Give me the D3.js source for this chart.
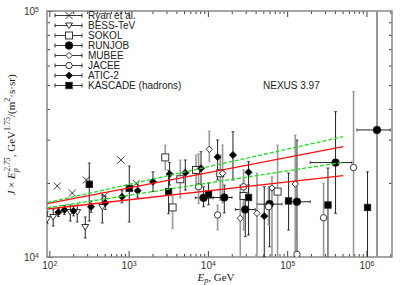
<!DOCTYPE html>
<html lang="en">
<head>
<meta charset="utf-8">
<script src="https://cdn.jsdelivr.net/npm/d3@7"></script>
<style>
  body { margin: 0; background: #fff; }
  svg { display: block; font-family: "Liberation Sans", Arial, sans-serif; }
  .tick text { font-size: 10px; fill: #333; }
</style>
</head>
<body>
<svg id="chart" width="407" height="285"></svg>
<script>
// rows: [E (GeV), J, J low, J high, E low, E high]
var ryan = [[126, 19440], [195, 18200], [293, 20560], [494, 17700], [800, 24790], [1250, 19900]];
var bess = [
  [94, 14260, 13710, 15280], [112, 14540, 13370, 15670], [184, 15240, 14000, 16270],
  [225, 15240, 13880, 16270], [284, 13240, 11950, 14540], [466, 15970, 13750, 17870]
];
var sokol = [
  [2902, 25400, 22580, 28530], [3589, 15900, 13080, 17590], [4487, 20700, 17370, 24790],
  [7080, 22580, 19000, 25980], [14330, 21900, 17000, 26000], [28200, 17700, 12870, 20560],
  [75700, 18450, 9000, 28530]
];
var runjob = [
  [8826, 17400, 16000, 19300, 6936, 11700], [16100, 17450, 15100, 19600, 10720, 20140],
  [29620, 15600, 12100, 18200, 22160, 39600], [60000, 16400, 11000, 19300, 41500, 86000],
  [132900, 16770, 9000, 29900, 94640, 195600], [407600, 24200, 15050, 38970, 195600, 656000],
  [1357000, 32840, 8000, 120000, 759000, 1995000]
];
var mubee = [
  [10420, 27400, 24400, 32500], [15320, 21900, 16560, 28530], [25620, 14370, 9000, 19620],
  [41600, 15050, 9000, 21950], [64300, 19070, 9000, 21200], [126500, 19800, 9000, 31330]
];
var jacee = [
  [7630, 19300, 16500, 26300], [13260, 14820, 12870, 16270], [28200, 19300, 16300, 22600],
  [58280, 16000, 13500, 19000], [132900, 10250, 9000, 11700], [287800, 14440, 9000, 19970],
  [687500, 23100, 9000, 47000]
];
var atic = [
  [130, 15200, 14600, 15800], [155, 15530, 14900, 16200], [202, 15400, 14700, 16100],
  [336, 16000, 15200, 16900], [508, 16600, 15600, 17700], [826, 17570, 16600, 18600],
  [1300, 18600, 17500, 19800], [2030, 20230, 18450, 22200], [3290, 21750, 19600, 24200],
  [5190, 22000, 18700, 24800], [8190, 22940, 19600, 26800], [13260, 25500, 20560, 29900],
  [20720, 25980, 20560, 32300], [32600, 22100, 17050, 24400], [51430, 14660, 10020, 19300]
];
var kascade = [
  [319, 19750, 14000, 24100], [1020, 19000, 13880, 23440], [3195, 18450, 15000, 22500],
  [10200, 18000, 16300, 20000], [32600, 17450, 12290, 19620], [104200, 16900, 12870, 21950],
  [327000, 16270, 9000, 23000], [1032000, 15900, 9000, 22200]
];

// NEXUS 3.97 model bands: [E, J]
var redUpper = [[94, 16470], [510000, 28080]];
var redLower = [[94, 15670], [510000, 21400]];
var greenUpper = [[94, 16640], [510000, 30830]];
var greenLower = [[94, 15850], [510000, 24270]];

var legendNames = ["Ryan et al.", "BESS-TeV", "SOKOL", "RUNJOB", "MUBEE", "JACEE", "ATIC-2", "KASCADE (hadrons)"];

var series = [
  { data: ryan, sym: "x", bar: "#222" },
  { data: bess, sym: "tri", bar: "#222" },
  { data: sokol, sym: "osq", bar: "#999" },
  { data: runjob, sym: "fcirc", bar: "#222" },
  { data: mubee, sym: "odiam", bar: "#999" },
  { data: jacee, sym: "ocirc", bar: "#999" },
  { data: atic, sym: "fdiam", bar: "#222" },
  { data: kascade, sym: "fsq", bar: "#222" }
];

var svg = d3.select("#chart");
var L = 47, R = 392, T = 11, B = 257;

var x = d3.scaleLog().domain([93.5, 2.1e6]).range([L, R]);
var y = d3.scaleLog().domain([1e4, 1e5]).range([B, T]);

svg.append("defs").append("clipPath").attr("id", "plotclip")
  .append("rect").attr("x", L).attr("y", T).attr("width", R - L).attr("height", B - T);

// ticks
var xt = x.ticks(), yt = y.ticks();
function isMajor(d) { return Math.abs(Math.log10(d) - Math.round(Math.log10(d))) < 1e-6; }
var xMaj = xt.filter(isMajor), xMin = xt.filter(function (d) { return !isMajor(d); });
var yMaj = yt.filter(isMajor), yMin = yt.filter(function (d) { return !isMajor(d); });

function supLabels(sel) {
  sel.selectAll(".tick text").each(function (d) {
    var t = d3.select(this);
    t.text("10");
    t.append("tspan").attr("dy", "-0.45em").attr("font-size", "7px").text(Math.round(Math.log10(d)));
  });
}

svg.append("g").attr("transform", "translate(0," + B + ")")
  .call(d3.axisBottom(x).tickValues(xMin).tickSize(-3).tickFormat(""));
svg.append("g").attr("transform", "translate(0," + B + ")")
  .call(d3.axisBottom(x).tickValues(xMaj).tickSize(-6).tickPadding(5))
  .call(supLabels);
svg.append("g").attr("transform", "translate(0," + T + ")")
  .call(d3.axisTop(x).tickValues(xMin).tickSize(-3).tickFormat(""));
svg.append("g").attr("transform", "translate(0," + T + ")")
  .call(d3.axisTop(x).tickValues(xMaj).tickSize(-6).tickFormat(""));
svg.append("g").attr("transform", "translate(" + L + ",0)")
  .call(d3.axisLeft(y).tickValues(yMin).tickSize(-3).tickFormat(""));
svg.append("g").attr("transform", "translate(" + L + ",0)")
  .call(d3.axisLeft(y).tickValues(yMaj).tickSize(-6).tickPadding(8))
  .call(supLabels);
svg.append("g").attr("transform", "translate(" + R + ",0)")
  .call(d3.axisRight(y).tickValues(yMin).tickSize(-3).tickFormat(""));

svg.selectAll(".domain").remove();
svg.selectAll(".tick line").attr("stroke", "#444");
svg.selectAll(".tick text").attr("fill", "#333");

// frame
svg.append("rect").attr("x", L).attr("y", T).attr("width", R - L).attr("height", B - T)
  .attr("fill", "none").attr("stroke", "#888").attr("stroke-width", 1.5);

var plot = svg.append("g").attr("clip-path", "url(#plotclip)");

function marker(g, sym, cx, cy) {
  if (sym === "x") {
    g.append("path").attr("d", "M" + (cx - 3.5) + "," + (cy - 3.5) + "L" + (cx + 3.5) + "," + (cy + 3.5) +
      "M" + (cx - 3.5) + "," + (cy + 3.5) + "L" + (cx + 3.5) + "," + (cy - 3.5))
      .attr("stroke", "#222").attr("stroke-width", 0.9).attr("fill", "none");
  } else if (sym === "tri") {
    g.append("path").attr("d", "M" + (cx - 3.5) + "," + (cy - 2.5) + "L" + (cx + 3.5) + "," + (cy - 2.5) + "L" + cx + "," + (cy + 3) + "Z")
      .attr("stroke", "#222").attr("stroke-width", 0.9).attr("fill", "#fff");
  } else if (sym === "osq" || sym === "fsq") {
    var s = sym === "osq" ? 3.5 : 3.2;
    g.append("rect").attr("x", cx - s).attr("y", cy - s).attr("width", 2 * s).attr("height", 2 * s)
      .attr("stroke", "#222").attr("stroke-width", 0.9).attr("fill", sym === "fsq" ? "#000" : "#fff");
  } else if (sym === "fcirc" || sym === "ocirc") {
    g.append("circle").attr("cx", cx).attr("cy", cy).attr("r", sym === "fcirc" ? 3.8 : 3.2)
      .attr("stroke", "#222").attr("stroke-width", 0.9).attr("fill", sym === "fcirc" ? "#000" : "#fff");
  } else if (sym === "odiam" || sym === "fdiam") {
    var h = sym === "odiam" ? 3.2 : 3.6;
    g.append("path").attr("d", "M" + cx + "," + (cy - h) + "L" + (cx + h) + "," + cy + "L" + cx + "," + (cy + h) + "L" + (cx - h) + "," + cy + "Z")
      .attr("stroke", "#222").attr("stroke-width", 0.9).attr("fill", sym === "fdiam" ? "#000" : "#fff");
  }
}

// error bars
series.forEach(function (s) {
  var thick = s.bar === "#999" ? 1.6 : 1;
  s.data.forEach(function (d) {
    var px = x(d[0]), py = y(d[1]);
    if (d.length > 2) {
      plot.append("line").attr("x1", px).attr("x2", px).attr("y1", y(d[2])).attr("y2", y(d[3]))
        .attr("stroke", s.bar).attr("stroke-width", thick);
      [d[2], d[3]].forEach(function (v) {
        plot.append("line").attr("x1", px - 1.5).attr("x2", px + 1.5).attr("y1", y(v)).attr("y2", y(v))
          .attr("stroke", s.bar).attr("stroke-width", 0.8);
      });
    }
    if (d.length > 4) {
      plot.append("line").attr("x1", x(d[4])).attr("x2", x(d[5])).attr("y1", py).attr("y2", py)
        .attr("stroke", "#222").attr("stroke-width", 1);
      [d[4], d[5]].forEach(function (v) {
        plot.append("line").attr("x1", x(v)).attr("x2", x(v)).attr("y1", py - 1.5).attr("y2", py + 1.5)
          .attr("stroke", "#222").attr("stroke-width", 0.8);
      });
    }
  });
});
// the last RUNJOB point has a wide grey bar
plot.append("line").attr("x1", x(runjob[6][0])).attr("x2", x(runjob[6][0]))
  .attr("y1", y(runjob[6][2])).attr("y2", y(runjob[6][3])).attr("stroke", "#999").attr("stroke-width", 1.8);

series.forEach(function (s) {
  s.data.forEach(function (d) { marker(plot, s.sym, x(d[0]), y(d[1])); });
});

// model lines
var line = d3.line().x(function (d) { return x(d[0]); }).y(function (d) { return y(d[1]); });
[redUpper, redLower].forEach(function (d) {
  plot.append("path").attr("d", line(d)).attr("fill", "none").attr("stroke", "#ff1010").attr("stroke-width", 1.3);
});
[greenUpper, greenLower].forEach(function (d) {
  plot.append("path").attr("d", line(d)).attr("fill", "none").attr("stroke", "#22dd22")
    .attr("stroke-width", 1.3).attr("stroke-dasharray", "4,2");
});

// legend
var leg = svg.append("g");
legendNames.forEach(function (name, i) {
  var cy = 15.5 + i * 10;
  leg.append("line").attr("x1", 55).attr("x2", 82).attr("y1", cy).attr("y2", cy).attr("stroke", "#222").attr("stroke-width", 0.9);
  leg.append("line").attr("x1", 55).attr("x2", 55).attr("y1", cy - 2).attr("y2", cy + 2).attr("stroke", "#222").attr("stroke-width", 0.9);
  leg.append("line").attr("x1", 82).attr("x2", 82).attr("y1", cy - 2).attr("y2", cy + 2).attr("stroke", "#222").attr("stroke-width", 0.9);
  marker(leg, series[i].sym, 69, cy);
  leg.append("text").attr("x", 88).attr("y", cy + 3.6).attr("font-size", "10px").attr("fill", "#222").text(name);
});

svg.append("text").attr("x", 263).attr("y", 89).attr("font-size", "10px").attr("fill", "#222").text("NEXUS 3.97");

// axis titles
var xl = svg.append("text").attr("x", 216).attr("y", 281).attr("text-anchor", "middle")
  .attr("font-family", "Liberation Serif, serif").attr("font-size", "11px").attr("fill", "#222");
xl.append("tspan").attr("font-style", "italic").text("E");
xl.append("tspan").attr("font-style", "italic").attr("font-size", "8px").attr("dy", "2").text("p");
xl.append("tspan").attr("dy", "-2").text(", GeV");

var yl = svg.append("text").attr("transform", "translate(15,135) rotate(-90)").attr("text-anchor", "middle")
  .attr("font-family", "Liberation Serif, serif").attr("font-size", "11px").attr("fill", "#222");
yl.append("tspan").attr("font-style", "italic").text("J");
yl.append("tspan").text(" \u00d7 ");
yl.append("tspan").attr("font-style", "italic").text("E");
yl.append("tspan").attr("font-style", "italic").attr("font-size", "8px").attr("dy", "3").text("p");
yl.append("tspan").attr("font-style", "italic").attr("font-size", "8px").attr("dy", "-8").attr("dx", "-3").text("2.75");
yl.append("tspan").attr("dy", "5").text(", GeV");
yl.append("tspan").attr("font-size", "8px").attr("dy", "-5").text("1.75");
yl.append("tspan").attr("dy", "5").text("/(m");
yl.append("tspan").attr("font-size", "8px").attr("dy", "-5").text("2");
yl.append("tspan").attr("dy", "5").text("\u00b7s\u00b7sr)");
</script>
</body>
</html>
